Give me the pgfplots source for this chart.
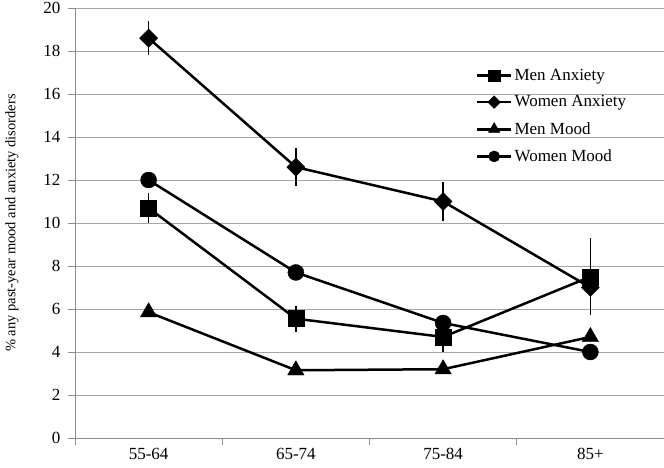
\documentclass[border=0pt]{standalone}
\usepackage{fontspec}
\setmainfont{Liberation Serif}
\usepackage{pgfplots}
\pgfplotsset{compat=1.18}
\begin{document}
\begin{tikzpicture}
\path[use as bounding box] (0,0) rectangle (664pt,467pt);
\begin{axis}[
  at={(75pt,29pt)}, anchor=south west,
  scale only axis, width=589pt, height=430pt,
  xmin=0.5, xmax=4.5, ymin=0, ymax=20,
  xtick={1,2,3,4}, xticklabels={55-64,65-74,75-84,85+},
  minor xtick={0.5,1.5,2.5,3.5,4.5},
  ytick={0,2,...,20},
  axis lines*=left,
  axis line style={draw=black!45, line width=1pt},
  ymajorgrids, grid style={black!35, line width=1pt},
  tick align=outside,
  major x tick style={draw=none},
  minor x tick style={black!45, line width=1pt},
  y tick style={black!45, line width=1pt},
  major tick length=7pt, minor tick length=7pt,
  tick label style={font=\fontsize{17}{20}\selectfont},
  yticklabel style={xshift=-4pt},
  /pgf/number format/assume math mode=true,
  ylabel={\% any past-year mood and anxiety disorders},
  ylabel style={font=\fontsize{14.5}{17}\selectfont, at={(axis description cs:-0.107,0.5)}, anchor=center},
  legend style={at={(axis description cs:0.675,0.868)}, anchor=north west, draw=none, fill=none,
    font=\fontsize{17}{20}\selectfont, row sep=10pt},
  legend cell align=left,
  legend image code/.code={\draw[line width=2.8pt, mark repeat=2,mark phase=2] plot coordinates {(0pt,0pt) (17pt,0pt) (34pt,0pt)};},
  legend image post style={every mark/.append style={scale=0.7}},
  every axis plot/.append style={black, line width=2.5pt},
  error bars/error bar style={line width=1.5pt, black},
]
\addplot[mark=square*, mark size=8pt, mark options={line width=0.4pt},
  error bars/.cd, y dir=both, y explicit, error mark=none]
  coordinates {(1,10.7) +- (0,0.7) (2,5.55) +- (0,0.6) (3,4.7) +- (0,0.7) (4,7.5) +- (0,1.8)};
\addlegendentry{Men Anxiety}
\addplot[mark=square*, mark size=6.4pt, mark options={rotate=45, line width=0.4pt},
  error bars/.cd, y dir=both, y explicit, error mark=none]
  coordinates {(1,18.6) +- (0,0.8) (2,12.6) +- (0,0.9) (3,11.0) +- (0,0.9) (4,7.0) +- (0,0)};
\addlegendentry{Women Anxiety}
\addplot[mark=triangle*, mark size=9.5pt, mark options={line width=0.4pt}]
  coordinates {(1,5.85) (2,3.15) (3,3.2) (4,4.7)};
\addlegendentry{Men Mood}
\addplot[mark=*, mark size=8pt, mark options={line width=0.4pt}]
  coordinates {(1,12.0) (2,7.7) (3,5.35) (4,4.0)};
\addlegendentry{Women Mood}
\end{axis}
\end{tikzpicture}
\end{document}
